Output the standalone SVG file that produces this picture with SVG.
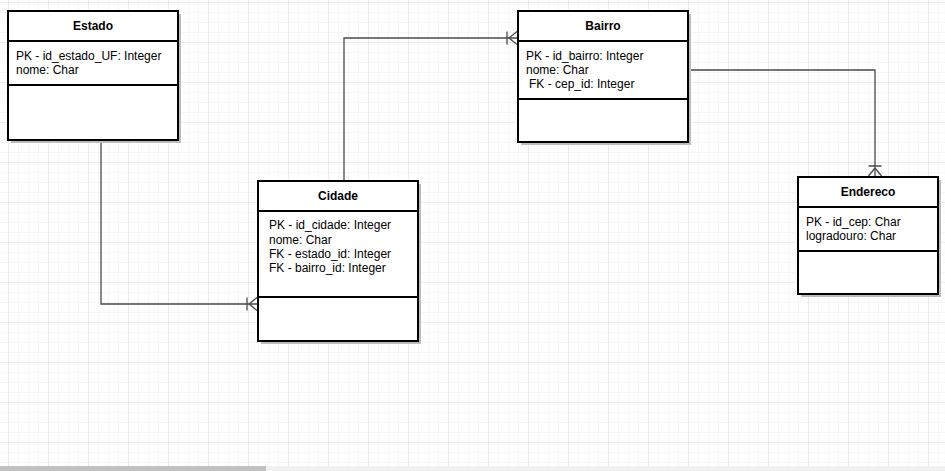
<svg xmlns="http://www.w3.org/2000/svg" width="945" height="471" viewBox="0 0 945 471">
<style>
.box{fill:#ffffff;stroke:#000000;stroke-width:2}
.shadow{fill:#bdbdbd}
.div{stroke:#000000;stroke-width:2}
.title{font-family:"Liberation Sans",Arial,sans-serif;font-size:12px;font-weight:bold;fill:#000000;text-anchor:middle}
.attr{font-family:"Liberation Sans",Arial,sans-serif;font-size:12px;fill:#000000}
.conn{fill:none;stroke:#4a4a4a;stroke-width:1.3}
</style>
<defs>
<pattern id="gridMinor" width="10" height="10" patternUnits="userSpaceOnUse" x="8" y="2">
<path d="M0,0 H10 M0,0 V10" fill="none" stroke="#ededf4" stroke-width="1"/>
</pattern>
<pattern id="gridMajor" width="40" height="40" patternUnits="userSpaceOnUse" x="8" y="2">
<path d="M0,0 H40 M0,0 V40" fill="none" stroke="#e0e0eb" stroke-width="1"/>
</pattern>
<marker id="erMany" viewBox="-12 -8 14 16" refX="0" refY="0" markerWidth="14" markerHeight="16" markerUnits="userSpaceOnUse" orient="auto" overflow="visible">
<path d="M-10,-6.5 V6.5 M-8,0 L0,-6.5 M-8,0 L0,6.5" fill="none" stroke="#4a4a4a" stroke-width="1.3"/>
</marker>
</defs>
<rect x="0" y="0" width="945" height="471" fill="#ffffff"/>
<rect x="0" y="0" width="945" height="471" fill="url(#gridMinor)"/>
<rect x="0" y="0" width="945" height="471" fill="url(#gridMajor)"/>
<g id="connectors">
<path class="conn" d="M101,126 V304 H257" marker-end="url(#erMany)"/>
<path class="conn" d="M344,181 V38 H517" marker-end="url(#erMany)"/>
<path class="conn" d="M688,70 H875 V176" marker-end="url(#erMany)"/>
</g>
<g id="estado">
<rect class="shadow" x="11" y="14" width="170" height="129"/>
<rect class="box" x="8" y="11" width="170" height="129"/>
<line class="div" x1="8" y1="41" x2="178" y2="41"/>
<line class="div" x1="8" y1="85" x2="178" y2="85"/>
<text class="title" x="93" y="30">Estado</text>
<text class="attr" x="16" y="60">PK - id_estado_UF: Integer</text>
<text class="attr" x="16" y="74">nome: Char</text>
</g>
<g id="bairro">
<rect class="shadow" x="521" y="14" width="170" height="131"/>
<rect class="box" x="518" y="11" width="170" height="131"/>
<line class="div" x1="518" y1="41" x2="688" y2="41"/>
<line class="div" x1="518" y1="99" x2="688" y2="99"/>
<text class="title" x="603" y="30">Bairro</text>
<text class="attr" x="526" y="60">PK - id_bairro: Integer</text>
<text class="attr" x="526" y="74">nome: Char</text>
<text class="attr" x="529" y="88">FK - cep_id: Integer</text>
</g>
<g id="cidade">
<rect class="shadow" x="261" y="184" width="160" height="160"/>
<rect class="box" x="258" y="181" width="160" height="160"/>
<line class="div" x1="258" y1="211" x2="418" y2="211"/>
<line class="div" x1="258" y1="297" x2="418" y2="297"/>
<text class="title" x="338" y="200">Cidade</text>
<text class="attr" x="269" y="229">PK - id_cidade: Integer</text>
<text class="attr" x="269" y="244">nome: Char</text>
<text class="attr" x="269" y="258">FK - estado_id: Integer</text>
<text class="attr" x="269" y="272">FK - bairro_id: Integer</text>
</g>
<g id="endereco">
<rect class="shadow" x="801" y="180" width="140" height="117"/>
<rect class="box" x="798" y="177" width="140" height="117"/>
<line class="div" x1="798" y1="207" x2="938" y2="207"/>
<line class="div" x1="798" y1="251" x2="938" y2="251"/>
<text class="title" x="868" y="196">Endereco</text>
<text class="attr" x="806" y="226">PK - id_cep: Char</text>
<text class="attr" x="806" y="240">logradouro: Char</text>
</g>
<rect x="0" y="466" width="945" height="5" fill="#f1f1f1"/>
<rect x="0" y="466" width="266" height="5" fill="#c1c1c1"/>
</svg>
